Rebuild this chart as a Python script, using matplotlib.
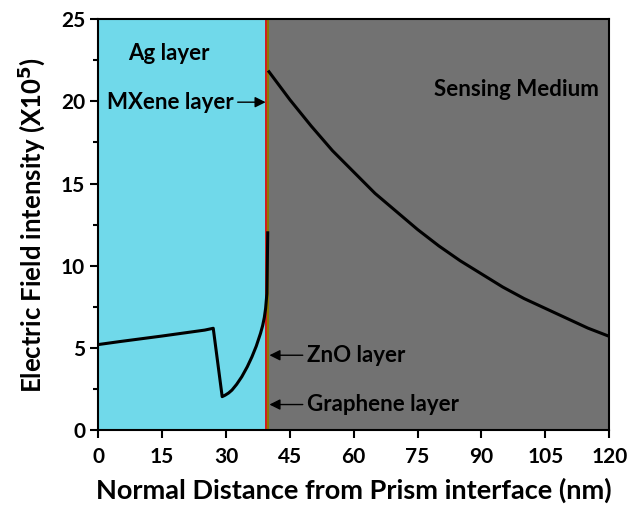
import numpy as np
import matplotlib
matplotlib.use('Agg')
import matplotlib.pyplot as plt

plt.rcParams['font.family'] = ['Lato', 'DejaVu Sans']
plt.rcParams['font.weight'] = 'bold'

# field inside Ag / MXene / ZnO / graphene stack (x in nm, y in 1e5)
stack_x = [0, 5, 10, 15, 20, 25, 27.0, 29.1, 29.8, 30.6, 31.4, 32.5, 33.7, 35.0, 36.1, 37.1, 38.1,
           38.6, 39.0, 39.3, 39.6, 39.8]
stack_y = [5.2, 5.38, 5.55, 5.72, 5.9, 6.08, 6.19, 2.03, 2.12, 2.25, 2.43, 2.78, 3.24, 3.85, 4.46, 5.1, 5.88,
           6.35, 6.85, 7.4, 8.3, 12.0]

# field in sensing medium
sense_x = [40.1, 45, 50, 55, 60, 65, 70, 75, 80, 85, 90, 95, 100, 105, 110, 115, 120]
sense_y = [21.8, 20.1, 18.5, 17.0, 15.7, 14.4, 13.3, 12.2, 11.2, 10.3, 9.5, 8.7, 8.0, 7.4, 6.8, 6.2, 5.7]

# layer boundaries (nm)
ag_end = 39.2
mxene_end = 39.6
zno_end = 40.1
x_max = 120


def main():
    fig = plt.figure(figsize=(6.3, 5.05), dpi=100)
    ax = fig.add_axes([0.156, 0.1485, 0.811, 0.8135])

    ax.axvspan(0, ag_end, color='#70D9EA', lw=0, zorder=0)
    ax.axvspan(ag_end, mxene_end, color='#D0201E', lw=0, zorder=0)
    ax.axvspan(mxene_end, zno_end, color='#8C7A00', lw=0, zorder=0)
    ax.axvspan(zno_end, x_max, color='#727272', lw=0, zorder=0)

    ax.plot(stack_x, stack_y, color='black', lw=2.2, zorder=2)
    ax.plot(sense_x, sense_y, color='black', lw=2.2, zorder=2)

    ax.set_xlim(0, x_max)
    ax.set_ylim(0, 25)
    ax.set_xticks(np.arange(0, 121, 15))
    ax.set_yticks(np.arange(0, 26, 5))
    ax.set_yticks(np.arange(2.5, 25, 5), minor=True)
    ax.tick_params(axis='both', which='major', direction='out', length=6, width=1.5, labelsize=15)
    ax.tick_params(axis='x', which='major', pad=6)
    ax.tick_params(axis='y', which='minor', direction='out', length=3.5, width=1.5)
    for s in ax.spines.values():
        s.set_linewidth(1.5)

    ax.set_xlabel('Normal Distance from Prism interface (nm)', fontsize=19.5, fontweight='bold', labelpad=8)
    ax.set_ylabel('Electric Field intensity (X10$^\\mathbf{5}$)', fontsize=18.5, fontweight='bold', labelpad=10)

    ax.text(7.0, 22.9, 'Ag layer', fontsize=16, fontweight='bold', va='center')
    ax.annotate('MXene layer', xy=(39.3, 19.95), xytext=(2.0, 19.95), fontsize=16, fontweight='bold',
                va='center', arrowprops=dict(arrowstyle='-|>', color='black', lw=1, shrinkA=1, shrinkB=0))
    ax.text(117.5, 20.7, 'Sensing Medium', fontsize=16, fontweight='bold', va='center', ha='right')
    ax.annotate('ZnO layer', xy=(40.2, 4.55), xytext=(49.0, 4.55), fontsize=16, fontweight='bold',
                va='center', arrowprops=dict(arrowstyle='-|>', color='black', lw=1, shrinkA=1, shrinkB=0))
    ax.annotate('Graphene layer', xy=(40.2, 1.55), xytext=(49.0, 1.55), fontsize=16, fontweight='bold',
                va='center', arrowprops=dict(arrowstyle='-|>', color='black', lw=1, shrinkA=1, shrinkB=0))

    fig.savefig('out.png', dpi=100)


if __name__ == '__main__':
    main()
